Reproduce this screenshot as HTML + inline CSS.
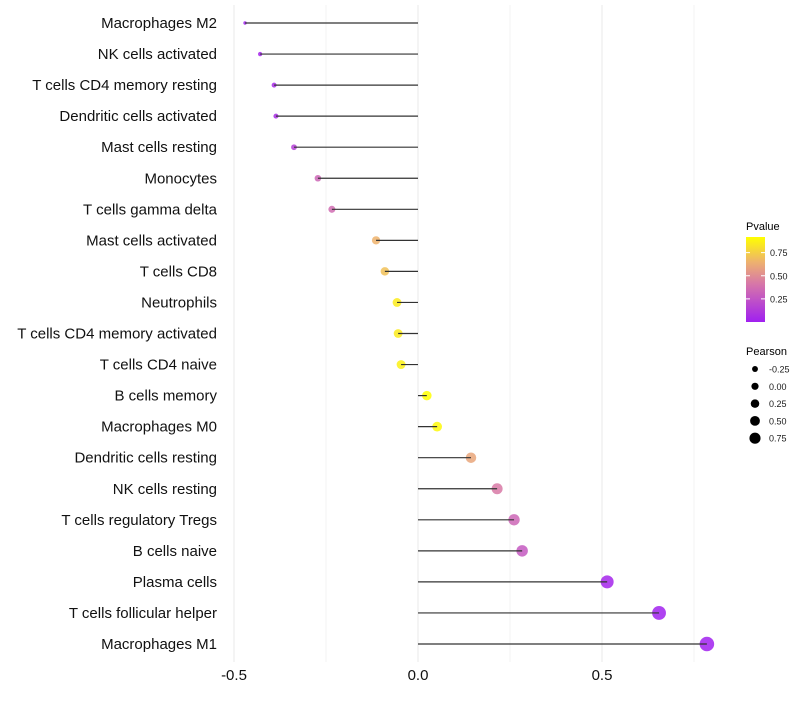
<!DOCTYPE html>
<html><head><meta charset="utf-8"><style>
body{margin:0;background:#fff;font-family:"Liberation Sans",sans-serif}
</style></head><body>
<svg id="chart" width="800" height="700" xmlns="http://www.w3.org/2000/svg">
<defs><linearGradient id="pg" x1="0" y1="1" x2="0" y2="0">
<stop offset="0" stop-color="#a020f0"/><stop offset="0.45" stop-color="#d777a8"/><stop offset="0.7" stop-color="#edb070"/><stop offset="1" stop-color="#ffff00"/></linearGradient></defs>
<g id="grid"></g><g id="dots"></g><g id="marks"></g><g id="labels"></g><g id="legend"></g>
</svg>
<script>
const categories=["Macrophages M2","NK cells activated","T cells CD4 memory resting","Dendritic cells activated","Mast cells resting","Monocytes","T cells gamma delta","Mast cells activated","T cells CD8","Neutrophils","T cells CD4 memory activated","T cells CD4 naive","B cells memory","Macrophages M0","Dendritic cells resting","NK cells resting","T cells regulatory  Tregs ","B cells naive","Plasma cells","T cells follicular helper","Macrophages M1"];
const pearson=[-0.470,-0.429,-0.391,-0.386,-0.337,-0.272,-0.234,-0.114,-0.090,-0.057,-0.054,-0.046,0.024,0.052,0.144,0.215,0.261,0.283,0.514,0.655,0.785];
const pvalues=[0.01,0.03,0.05,0.06,0.15,0.33,0.36,0.65,0.7,0.85,0.85,0.87,0.95,0.9,0.6,0.42,0.33,0.27,0.03,0.01,0.005];
const xTicks=[-0.5,0,0.5];
const xTickLabels=["-0.5","0.0","0.5"];
const legendSizes=[-0.25,0,0.25,0.5,0.75];
const legendSizeLabels=["-0.25","0.00","0.25","0.50","0.75"];
const colorTicks=[0.25,0.5,0.75];
const colorTickLabels=["0.25","0.50","0.75"];
const NS="http://www.w3.org/2000/svg";
const x=v=>418+v*368;
const y=i=>23+i*31.05;
const r=v=>Math.sqrt(Math.max(1,21.7+39.9*v));
const rl=v=>3.6+v*2.6;
function lerp(a,b,t){return a.map((c,i)=>Math.round(c+(b[i]-c)*t));}
function color(p){const st=[[0,[160,32,240]],[0.41,[215,119,168]],[0.64,[237,176,112]],[0.92,[255,255,0]]];
 if(p>=0.92)return"rgb(255,255,0)";for(let i=0;i<st.length-1;i++){if(p<=st[i+1][0]){const t=(p-st[i][0])/(st[i+1][0]-st[i][0]);return"rgb("+lerp(st[i][1],st[i+1][1],t).join(",")+")";}}}
function mk(tag,at,par,txt){const e=document.createElementNS(NS,tag);for(const k in at)e.setAttribute(k,at[k]);if(txt!==undefined)e.textContent=txt;par.appendChild(e);return e;}
const grid=document.getElementById('grid'),marks=document.getElementById('marks'),dots=document.getElementById('dots'),labels=document.getElementById('labels'),legend=document.getElementById('legend');
[-0.5,-0.25,0,0.25,0.5,0.75].forEach(v=>{const l=mk('line',{x1:x(v),x2:x(v),y1:5,y2:662,stroke:'#ebebeb','stroke-width':Math.abs(v*4)%2==1?0.6:1.1},grid);
});
categories.forEach((c,i)=>{
 const t=mk('text',{x:217,y:y(i)+5,'text-anchor':'end','font-size':15,fill:'#111'},labels,c);
 
 const s=mk('line',{x1:x(0),x2:x(pearson[i]),y1:y(i),y2:y(i),stroke:'#333','stroke-width':1.2},marks);
 
 const d=mk('circle',{cx:x(pearson[i]),cy:y(i),r:r(pearson[i]),fill:color(pvalues[i]),'fill-opacity':0.85},dots);
 });
xTicks.forEach((v,i)=>{const t=mk('text',{x:x(v),y:680,'text-anchor':'middle','font-size':15,fill:'#111'},labels,xTickLabels[i]);
 });
let t=mk('text',{x:746,y:230,'font-size':11,fill:'#000'},legend,'Pvalue');
const cb=mk('rect',{x:746,y:237,width:19,height:85,fill:'url(#pg)'},legend);
const cy=v=>322-v*92.5;
colorTicks.forEach((v,i)=>{mk('line',{x1:746,x2:750,y1:cy(v),y2:cy(v),stroke:'#fff'},legend);mk('line',{x1:761,x2:765,y1:cy(v),y2:cy(v),stroke:'#fff'},legend);
 const tt=mk('text',{x:770,y:cy(v)+3.5,'font-size':9,fill:'#1a1a1a'},legend,colorTickLabels[i]);});
t=mk('text',{x:746,y:355,'font-size':11,fill:'#000'},legend,'Pearson');
legendSizes.forEach((v,i)=>{const yy=369+i*17.3;const c=mk('circle',{cx:755,cy:yy,r:rl(v),fill:'#000'},legend);
 
 const tt=mk('text',{x:769,y:yy+3.5,'font-size':9,fill:'#1a1a1a'},legend,legendSizeLabels[i]);});
</script>
</body></html>
